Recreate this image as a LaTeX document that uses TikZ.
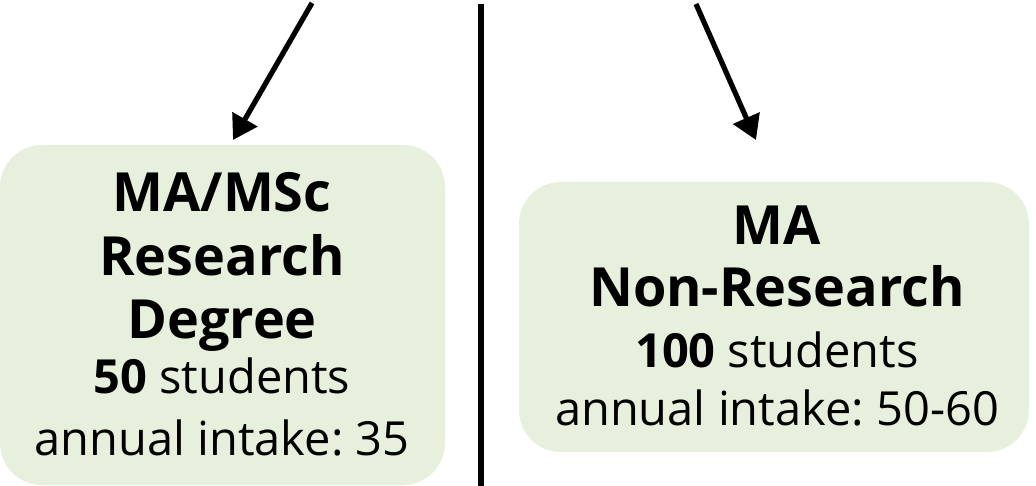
\documentclass[tikz,border=0pt]{standalone}
\usepackage{fontspec}
\setmainfont{Open Sans}
\usetikzlibrary{arrows.meta}
\definecolor{boxgreen}{HTML}{E6F0DD}
\frenchspacing
\tikzset{
  progbox/.style={fill=boxgreen, draw=none, rounded corners=42pt, inner sep=0pt},
  headline/.style={anchor=base, inner sep=0pt, font=\fontsize{54}{60}\selectfont\bfseries},
  bodyline/.style={anchor=base, inner sep=0pt, font=\fontsize{47}{52}\selectfont},
  pointer/.style={line width=5.2pt, -{Triangle[length=24pt,width=28pt]}},
  divider/.style={line width=5.5pt}
}
\begin{document}
\begin{tikzpicture}[x=1pt,y=-1pt]
\useasboundingbox (0,0) rectangle (1036,486);
% boxes
\node[progbox, minimum width=445pt, minimum height=340pt] (lbox) at (222.5,315) {};
\node[progbox, minimum width=510pt, minimum height=270pt] (rbox) at (774,317) {};
% divider
\coordinate (dtop) at (481,4);
\coordinate (dbot) at (481,486);
\draw[divider] (dtop) -- (dbot);
% arrows
\coordinate (la) at (312,3);
\coordinate (lb) at (233,140);
\coordinate (ra) at (696,4);
\coordinate (rb) at (756,140);
\draw[pointer] (la) -- (lb);
\draw[pointer] (ra) -- (rb);
% left text
\node[headline] (l1) at (222,212) {MA/MSc};
\node[headline] (l2) at (222,276) {Research};
\node[headline] (l3) at (222,338) {Degree};
\node[bodyline] (l4) at (222,393) {\textbf{50} students};
\node[bodyline] (l5) at (222,455) {annual intake: 35};
% right text
\node[headline] (r1) at (777,245) {MA};
\node[headline] (r2) at (777,307) {Non-Research};
\node[bodyline] (r3) at (777,367) {\textbf{100} students};
\node[bodyline] (r4) at (777,425) {annual intake: 50-60};
\end{tikzpicture}
\end{document}
